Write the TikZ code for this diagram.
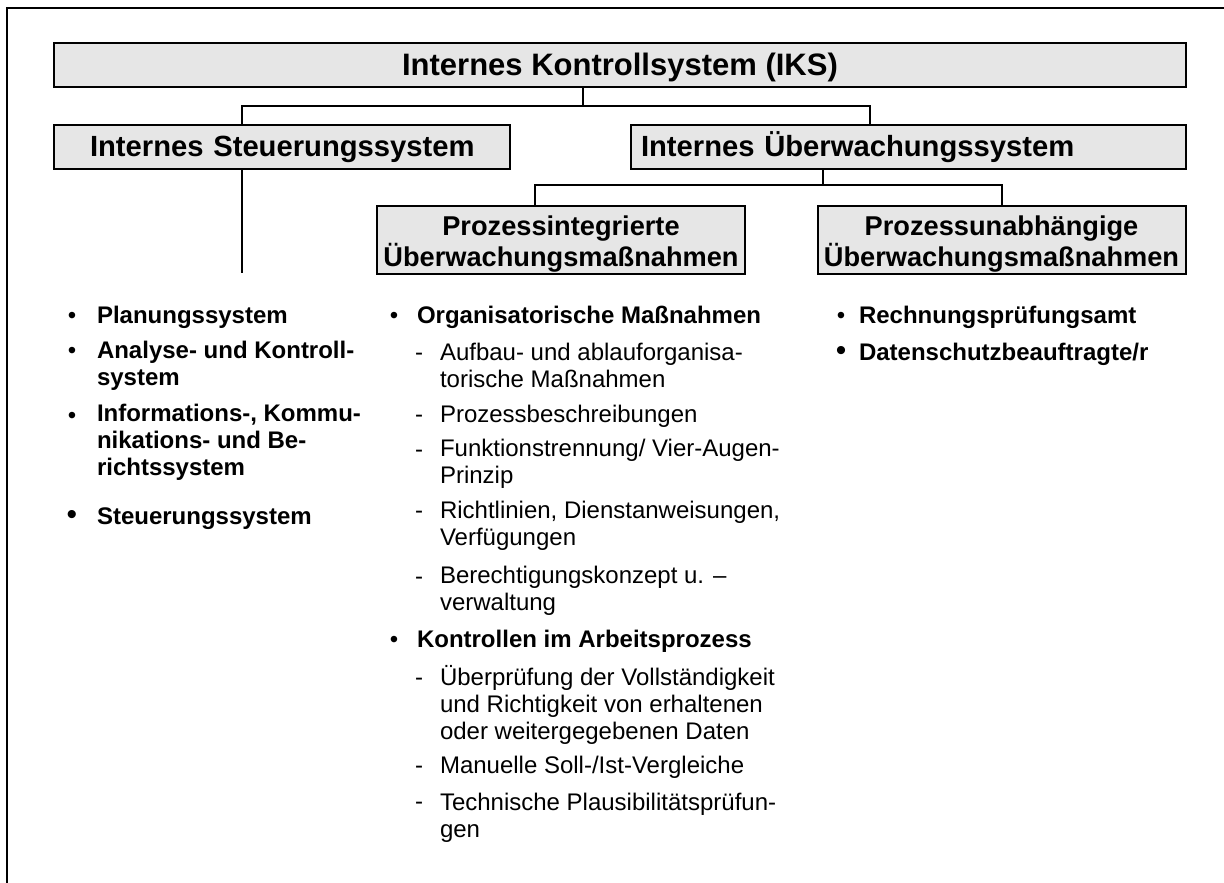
\documentclass[tikz,border=0pt]{standalone}
\usepackage{fontspec}
\setmainfont{Liberation Sans}
\definecolor{boxgray}{RGB}{230,230,230}
\newcommand\bdyfont{\fontsize{12}{13.4}\selectfont}
\newcommand\hdrfont{\fontsize{14.6}{16}\selectfont\bfseries}
\newcommand\shdrfont{\fontsize{13.6}{15.5}\selectfont\bfseries}
\begin{document}
\begin{tikzpicture}[x=0.5pt,y=-0.5pt,line width=1pt,
  box/.style={draw, line width=1pt, fill=boxgray, inner sep=0pt},
  hbox/.style={box, minimum height=22pt, text height=13pt, text depth=3pt, align=left, font=\hdrfont},
  sbox/.style={box, minimum width=184pt, minimum height=34pt, align=center, text height=29pt, text depth=3pt, font=\shdrfont},
  itm/.style={anchor=base west, align=left, inner sep=0pt, font=\bdyfont\bfseries},
  sub/.style={anchor=base west, align=left, inner sep=0pt, font=\bdyfont},
  bul/.style={anchor=base, inner sep=0pt, font=\bdyfont},
  bigbul/.style={anchor=base, inner sep=0pt, font=\fontsize{15}{16}\selectfont},
  dsh/.style={anchor=base, inner sep=0pt, font=\bdyfont}]
\useasboundingbox (0,0) rectangle (1224,882);
% frame
\draw (7,886) -- (7,8) -- (1228,8);

% boxes
\node[box, minimum width=566pt, minimum height=22pt, text height=14pt, text depth=3pt,
      font=\fontsize{15.5}{18}\selectfont\bfseries] (iks) at (620,65) {Internes Kontrollsystem (IKS)};
\node[hbox, text width=228pt] (iss) at (282,147) {\hspace*{18pt}Internes Steuerungssystem};
\node[hbox, text width=277.5pt] (ius) at (908.5,147) {\hspace*{5pt}Internes Überwachungssystem};
\node[sbox] (pi) at (561,240) {Prozessintegrierte\\Überwachungsmaßnahmen};
\node[sbox] (pu) at (1001.5,240) {Prozessunabhängige\\Überwachungsmaßnahmen};

% connectors
\coordinate (j1) at (583,106);
\coordinate (cL) at (242,106);
\coordinate (cR) at (870,106);
\coordinate (cD) at (242,273);
\coordinate (k1) at (823,185);
\coordinate (kL) at (535,185);
\coordinate (kR) at (1001.5,185);
\draw (iks.south -| j1) -- (j1);
\draw (iss.north -| cL) -- (cL) -- (cR) -- (ius.north -| cR);
\draw (iss.south -| cD) -- (cD);
\draw (ius.south -| k1) -- (k1);
\draw (pi.north -| kL) -- (kL) -- (kR) -- (pu.north -| kR);

% left column (multi-line nodes are anchored at their last line)
\node[bul] (b1) at (72,323) {•};
\node[itm] (l1) at (96,323) {Planungssystem};
\node[bul] (b2) at (72,358) {•};
\node[itm] (l2) at (96,385) {Analyse- und Kontroll-\\system};
\node[bul] (b3) at (72,423) {•};
\node[itm] (l3) at (96,475) {Informations-, Kommu-\\nikations- und Be-\\richtssystem};
\node[bigbul] (b4) at (72,524) {•};
\node[itm] (l4) at (96,524) {Steuerungssystem};

% middle column
\node[bul] (b5) at (394,323) {•};
\node[itm] (m1) at (416,323) {Organisatorische Maßnahmen};
\node[dsh] (d1) at (419,360) {-};
\node[sub] (s1) at (439,387) {Aufbau- und ablauforganisa-\\torische Maßnahmen};
\node[dsh] (d2) at (419,422) {-};
\node[sub] (s2) at (439,422) {Prozessbeschreibungen};
\node[dsh] (d3) at (419,457) {-};
\node[sub] (s3) at (439,483) {Funktionstrennung/ Vier-Augen-\\Prinzip};
\node[dsh] (d4) at (419,518) {-};
\node[sub] (s4) at (439,545) {Richtlinien, Dienstanweisungen,\\Verfügungen};
\node[dsh] (d5) at (419,584) {-};
\node[sub] (s5) at (439,610) {Berechtigungskonzept u. –\\verwaltung};
\node[bul] (b6) at (394,647) {•};
\node[itm] (m2) at (416,647) {Kontrollen im Arbeitsprozess};
\node[dsh] (d6) at (419,685) {-};
\node[sub] (s6) at (439,739) {Überprüfung der Vollständigkeit\\und Richtigkeit von erhaltenen\\oder weitergegebenen Daten};
\node[dsh] (d7) at (419,773) {-};
\node[sub] (s7) at (439,773) {Manuelle Soll-/Ist-Vergleiche};
\node[dsh] (d8) at (419,809) {-};
\node[sub] (s8) at (439,837) {Technische Plausibilitätsprüfun-\\gen};

% right column
\node[bul] (b7) at (841,323) {•};
\node[itm] (r1) at (858,323) {Rechnungsprüfungsamt};
\node[bigbul] (b8) at (841,360) {•};
\node[itm] (r2) at (858,360) {Datenschutzbeauftragte/r};
\end{tikzpicture}
\end{document}
